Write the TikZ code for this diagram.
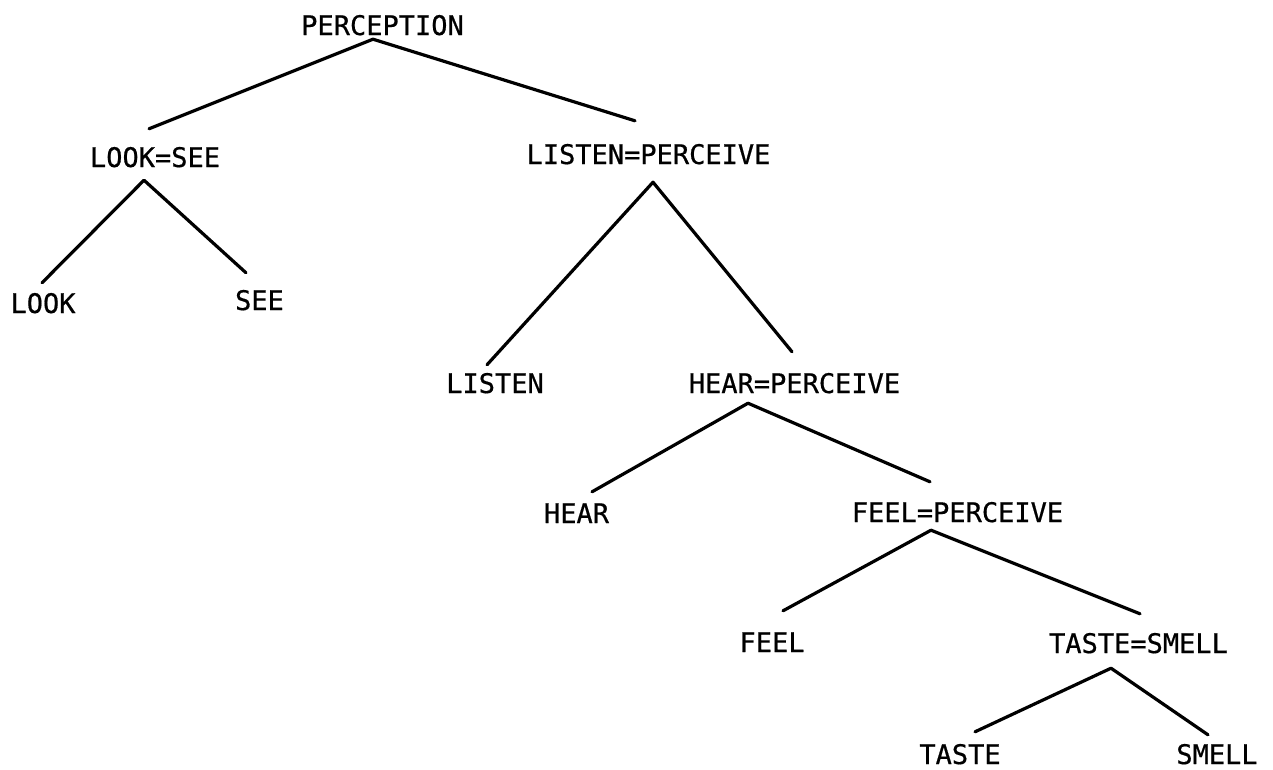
\documentclass[tikz,border=0pt]{standalone}
\usepackage{fontspec}
\setmonofont[FakeBold=0.6]{DejaVu Sans Mono}
\begin{document}
\begin{tikzpicture}[x=1pt,y=-1pt,
  lbl/.style={anchor=base,inner sep=0pt,text height=20pt,text depth=0pt,
    font=\ttfamily\fontsize{27}{30}\selectfont},
  edge/.style={line width=3.2pt,line cap=round,line join=round}]
\useasboundingbox (0,0) rectangle (1273,769);
\node[lbl] (p) at (382.5,35) {PERCEPTION};
\node[lbl] (ls) at (155,167) {LOOK=SEE};
\node[lbl] (lp) at (648.5,164) {LISTEN=PERCEIVE};
\node[lbl] (look) at (43,313) {LOOK};
\node[lbl] (see) at (259.5,310) {SEE};
\node[lbl] (listen) at (495,393) {LISTEN};
\node[lbl] (hp) at (794.5,393) {HEAR=PERCEIVE};
\node[lbl] (hear) at (576.5,523) {HEAR};
\node[lbl] (fp) at (957.5,522) {FEEL=PERCEIVE};
\node[lbl] (feel) at (772,652) {FEEL};
\node[lbl] (ts) at (1138.5,653) {TASTE=SMELL};
\node[lbl] (taste) at (960,764) {TASTE};
\node[lbl] (smell) at (1217,764) {SMELL};
\draw[edge] ([shift={(-6,-18)}]ls.north) -- ([shift={(-9.5,4)}]p.south) -- ([shift={(-13.5,-23)}]lp.north);
\draw[edge] ([shift={(-1,-10)}]look.north) -- ([shift={(-11,13)}]ls.south) -- ([shift={(-13.5,-17)}]see.north);
\draw[edge] ([shift={(-8,-8)}]listen.north) -- ([shift={(4.5,18)}]lp.south) -- ([shift={(-2.5,-21)}]hp.north);
\draw[edge] ([shift={(15.5,-11)}]hear.north) -- ([shift={(-46.5,10)}]hp.south) -- ([shift={(-27.5,-20)}]fp.north);
\draw[edge] ([shift={(11,-21)}]feel.north) -- ([shift={(-26.5,8)}]fp.south) -- ([shift={(1.5,-19)}]ts.north);
\draw[edge] ([shift={(15,-12)}]taste.north) -- ([shift={(-27.5,15)}]ts.south) -- ([shift={(-9,-9)}]smell.north);
\end{tikzpicture}
\end{document}
